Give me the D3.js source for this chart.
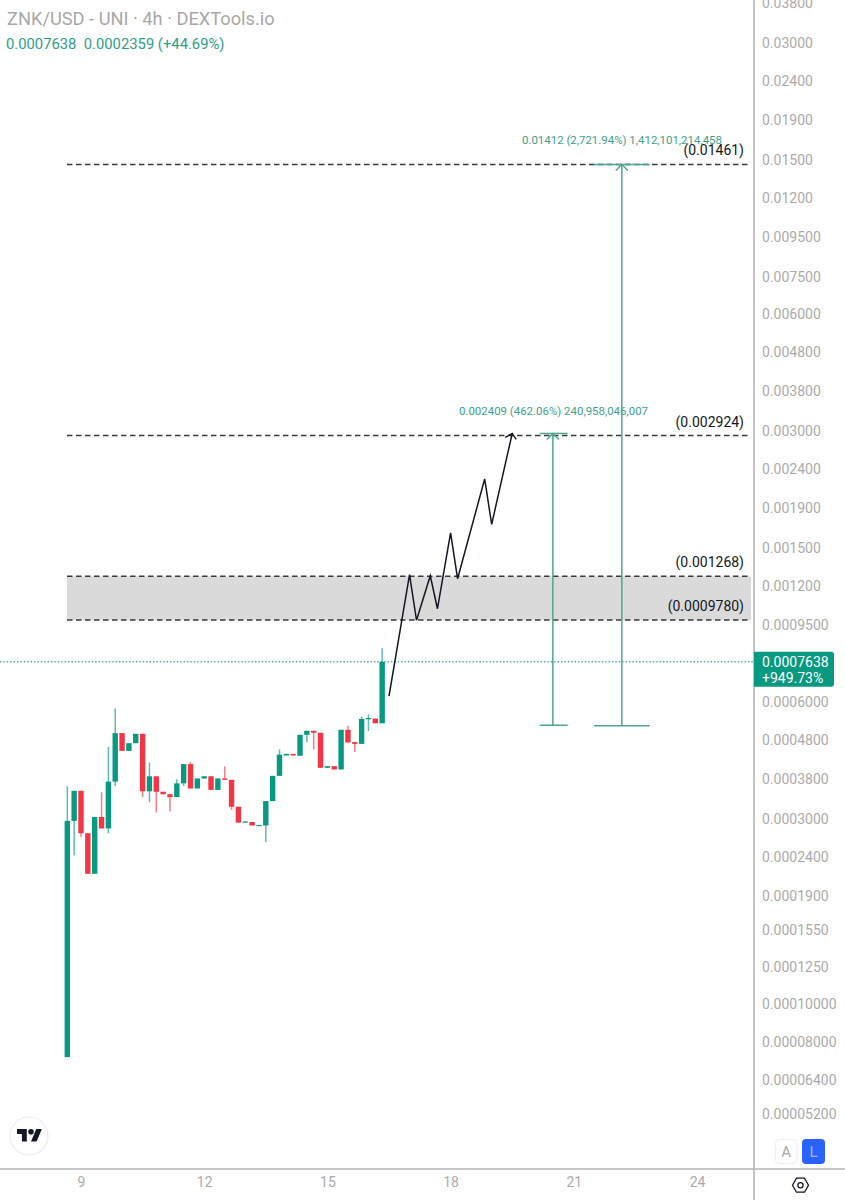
<!DOCTYPE html>
<html><head><meta charset="utf-8">
<script src="https://cdnjs.cloudflare.com/ajax/libs/d3/7.8.5/d3.min.js"></script>
<style>html,body{margin:0;padding:0;background:#fff}svg{display:block;font-family:Roboto,sans-serif}</style>
</head><body><svg id="c" width="845" height="1200"></svg>
<script>
const title = "ZNK/USD - UNI · 4h · DEXTools.io";
const subtitle = "0.0007638\u00a0\u00a00.0002359 (+44.69%)";
const priceTickLabels = ["0.03800","0.03000","0.02400","0.01900","0.01500","0.01200","0.009500","0.007500","0.006000","0.004800","0.003800","0.003000","0.002400","0.001900","0.001500","0.001200","0.0009500","0.0006000","0.0004800","0.0003800","0.0003000","0.0002400","0.0001900","0.0001550","0.0001250","0.00010000","0.00008000","0.00006400","0.00005200"];
const dayTicks = [9,12,15,18,21,24];
const firstCandleDay = 8 + 4/6;
const candlesPerDay = 6;
const opens = [.0000731,.000297,.000355,.000276,.000217,.000304,.000284,.000375,.000500,.000450,.000471,.000498,.000354,.000387,.000353,.000348,.000342,.000371,.000416,.000360,.000382,.000387,.000357,.000382,.000379,.000323,.000294,.000295,.000289,.000289,.000334,.000388,.000438,.000442,.000437,.000495,.000507,.000501,.000407,.000411,.000403,.000510,.000474,.000469,.000543,.000545,.000530];
const closes = [.000297,.000355,.000276,.000217,.000304,.000284,.000375,.000500,.000450,.000471,.000498,.000354,.000387,.000353,.000348,.000342,.000371,.000416,.000360,.000382,.000387,.000357,.000382,.000379,.000323,.000294,.000296,.000289,.000290,.000334,.000388,.000440,.000442,.000438,.000495,.000507,.000501,.000407,.000411,.000403,.000510,.000473,.000469,.000544,.000547,.000530,.0007638];
const highs = [.000365,.000355,.000355,.000276,.000304,.000352,.000461,.000579,.000500,.000471,.000498,.000498,.000420,.000387,.000353,.000348,.000380,.000416,.000421,.000382,.000387,.000387,.000382,.000410,.000379,.000323,.000296,.000295,.000290,.000334,.000388,.000454,.000442,.000442,.000495,.000507,.000507,.000501,.000411,.000411,.000510,.000522,.000474,.000552,.000559,.000545,.000827];
const lows = [.0000731,.000242,.000270,.000217,.000217,.000284,.000276,.000365,.000450,.000450,.000471,.000342,.000332,.000312,.000348,.000314,.000342,.000365,.000360,.000360,.000382,.000357,.000357,.000379,.000317,.000294,.000294,.000289,.000289,.000262,.000334,.000388,.000438,.000438,.000437,.000473,.000454,.000407,.000407,.000403,.000403,.000473,.000447,.000469,.000506,.000530,.000530];
const lastPrice = 0.0007638;
const lastChange = "+949.73%";
const levels = [0.01461,0.002924,0.001268,0.000978];
const levelLabels = ["(0.01461)","(0.002924)","(0.001268)","(0.0009780)"];
const pathDays = [16.5,17,17.17,17.505,17.68,18,18.17,18.83,19,19.5];
const pathPrices = [.000623,.00128,.000977,.001272,.001046,.00164,.00125,.00226,.001726,.00296];
const toolDays = [20.49,22.17];
const toolCapStart = [20.17,21.49];
const toolCapEnd = [20.85,22.85];
const toolLow = [.000524,.000522];
const toolHigh = [.00296,.01461];
const toolLabels = ["0.002409 (462.06%) 240,958,046,007","0.01412 (2,721.94%) 1,412,101,214,458"];

const W=845,H=1200,axisX=754,axisY=1169;
const GREEN="#089981",RED="#f23645",TEAL="#4fa594",GREY="#ababab";
const svg=d3.select("#c");
const y=d3.scaleLog().domain([0.015,0.00015]).range([160,160+388*2]);
const x=d3.scaleLinear().domain([9,24]).range([81,697]);
const idx=d3.range(opens.length);
const cx=i=>x(firstCandleDay+i/candlesPerDay);

// zone
const zone=svg.append("g");
zone.append("rect").attr("x",67).attr("width",axisX-67-3)
  .attr("y",y(levels[2])).attr("height",y(levels[3])-y(levels[2])).attr("fill","#dadada");

// last price line
svg.append("line").attr("x1",0).attr("x2",axisX).attr("y1",y(lastPrice)).attr("y2",y(lastPrice))
  .attr("stroke","#4fae9c").attr("stroke-width",1.3).attr("stroke-dasharray","1.4 2");

// levels
svg.append("g").selectAll("line").data(levels).join("line")
  .attr("x1",67).attr("x2",749).attr("y1",d=>y(d)).attr("y2",d=>y(d))
  .attr("stroke","#3a3a3a").attr("stroke-width",1.5).attr("stroke-dasharray","5.5 3.5");
const labelYOffset=[-9,-9,-9,-9];
svg.append("g").selectAll("text").data(levels).join("text")
  .attr("x",744).attr("y",(d,i)=>y(d)+labelYOffset[i]).attr("text-anchor","end")
  .attr("font-size",14).attr("fill","#131722").text((d,i)=>levelLabels[i]);

// candles
const cg=svg.append("g");
cg.selectAll("line").data(idx).join("line")
  .attr("x1",cx).attr("x2",cx).attr("y1",i=>y(highs[i])).attr("y2",i=>y(lows[i]))
  .attr("stroke",i=>closes[i]>=opens[i]?GREEN:RED).attr("stroke-opacity",.65).attr("stroke-width",1.5);
cg.selectAll("rect").data(idx).join("rect")
  .attr("x",i=>cx(i)-2.7).attr("width",5.4)
  .attr("y",i=>y(Math.max(opens[i],closes[i])))
  .attr("height",i=>Math.max(1.2,Math.abs(y(opens[i])-y(closes[i]))))
  .attr("fill",i=>closes[i]>=opens[i]?GREEN:RED);

// projected path
const pts=pathDays.map((d,i)=>[x(d),y(pathPrices[i])]);
svg.append("path").attr("d",d3.line()(pts)).attr("fill","none").attr("stroke","#131722").attr("stroke-width",1.5).attr("stroke-linejoin","miter");
const end=pts[pts.length-1];
svg.append("path").attr("d",d3.line()([[end[0]-7,end[1]+4],end,[end[0]+4,end[1]+6]])).attr("fill","none").attr("stroke","#131722").attr("stroke-width",1.4);

// tool labels
const toolLabelX=[459,522], toolLabelY=[415,144];
svg.append("g").selectAll("text").data(toolLabels).join("text")
  .attr("x",(d,i)=>toolLabelX[i]).attr("y",(d,i)=>toolLabelY[i])
  .attr("font-size",11.45).attr("fill","#3f9f8e").text(d=>d);

// measure tools
const tg=svg.append("g").attr("fill","none").attr("stroke",TEAL).attr("stroke-width",1.5);
toolDays.forEach((d,i)=>{
  const px=x(d),t=y(toolHigh[i]),b=y(toolLow[i]);
  tg.append("line").attr("x1",px).attr("x2",px).attr("y1",t).attr("y2",b);
  tg.append("line").attr("x1",x(toolCapStart[i])).attr("x2",x(toolCapEnd[i])).attr("y1",b).attr("y2",b);
  tg.append("line").attr("x1",x(toolCapStart[i])).attr("x2",x(toolCapEnd[i])).attr("y1",t).attr("y2",t);
  tg.append("path").attr("d",d3.line()([[px-6,t+6],[px,t],[px+6,t+6]]));
});

// axes
svg.append("rect").attr("x",axisX).attr("y",0).attr("width",W-axisX).attr("height",H).attr("fill","#fff");
svg.append("rect").attr("x",0).attr("y",axisY).attr("width",W).attr("height",H-axisY).attr("fill","#fff");
const yAxis=d3.axisRight(y).tickValues(priceTickLabels.map(Number)).tickSize(0).tickPadding(0)
  .tickFormat((d,i)=>priceTickLabels[i]);
const ya=svg.append("g").attr("transform",`translate(762,0)`).call(yAxis);
ya.select(".domain").remove();
ya.selectAll("text").attr("font-size",14).attr("font-family","Roboto,sans-serif").attr("fill",GREY);
const xAxis=d3.axisBottom(x).tickValues(dayTicks).tickSize(0).tickPadding(0).tickFormat(d3.format("d"));
const xa=svg.append("g").attr("transform",`translate(0,1177)`).call(xAxis);
xa.select(".domain").remove();
xa.selectAll("text").attr("font-size",14).attr("font-family","Roboto,sans-serif").attr("fill",GREY);
svg.append("line").attr("x1",axisX).attr("x2",axisX).attr("y1",0).attr("y2",H).attr("stroke","#b4b4b4").attr("stroke-width",1.6);
svg.append("line").attr("x1",0).attr("x2",W).attr("y1",axisY).attr("y2",axisY).attr("stroke","#b4b4b4").attr("stroke-width",1.6);

// price tag
const ty=y(lastPrice);
svg.append("path").attr("d",`M${axisX} ${ty-10}H831a3 3 0 0 1 3 3V${ty+22}a3 3 0 0 1 -3 3H${axisX}Z`).attr("fill",GREEN);
svg.append("text").attr("x",762).attr("y",ty+5).attr("font-size",14).attr("fill","#fff").text(d3.format(".7f")(lastPrice));
svg.append("text").attr("x",762).attr("y",ty+21).attr("font-size",14).attr("fill","#fff").text(lastChange);

// header
svg.append("text").attr("x",7).attr("y",25).attr("font-size",18.25).attr("fill","#a8a8a8").text(title);
svg.append("text").attr("x",6).attr("y",49).attr("font-size",14.8).attr("fill","#2f9e8a").text(subtitle);

// logo
svg.append("circle").attr("cx",29).attr("cy",1136).attr("r",19).attr("fill","#fff").attr("stroke","#ececec").attr("stroke-width",1.2);
const logo=svg.append("g").attr("transform","translate(17,1126.2) scale(.7)").attr("fill","#131722");
logo.append("path").attr("d","M14 22H7V11H0V4h14v18zM28 22h-8l7.5-18h8L28 22z");
logo.append("circle").attr("cx",20).attr("cy",8).attr("r",4);

// buttons
svg.append("rect").attr("x",775.5).attr("y",1139.5).attr("width",21.5).attr("height",24).attr("rx",4).attr("fill","#fff").attr("stroke","#eceef2");
svg.append("text").attr("x",786.2).attr("y",1157).attr("text-anchor","middle").attr("font-size",15).attr("fill","#a8a8a8").text("A");
svg.append("rect").attr("x",802).attr("y",1139).attr("width",23).attr("height",25).attr("rx",4).attr("fill","#2962ff");
svg.append("text").attr("x",813.5).attr("y",1157).attr("text-anchor","middle").attr("font-size",15).attr("fill","#9db8ff").text("L");
// settings
svg.append("path").attr("d","M792.5 1185.2L796.5 1178.2H804.5L808.5 1185.2L804.5 1192.2H796.5Z").attr("fill","none").attr("stroke","#131722").attr("stroke-width",1.3);
svg.append("circle").attr("cx",800.5).attr("cy",1185.2).attr("r",2.6).attr("fill","none").attr("stroke","#131722").attr("stroke-width",1.3);
</script></body></html>
